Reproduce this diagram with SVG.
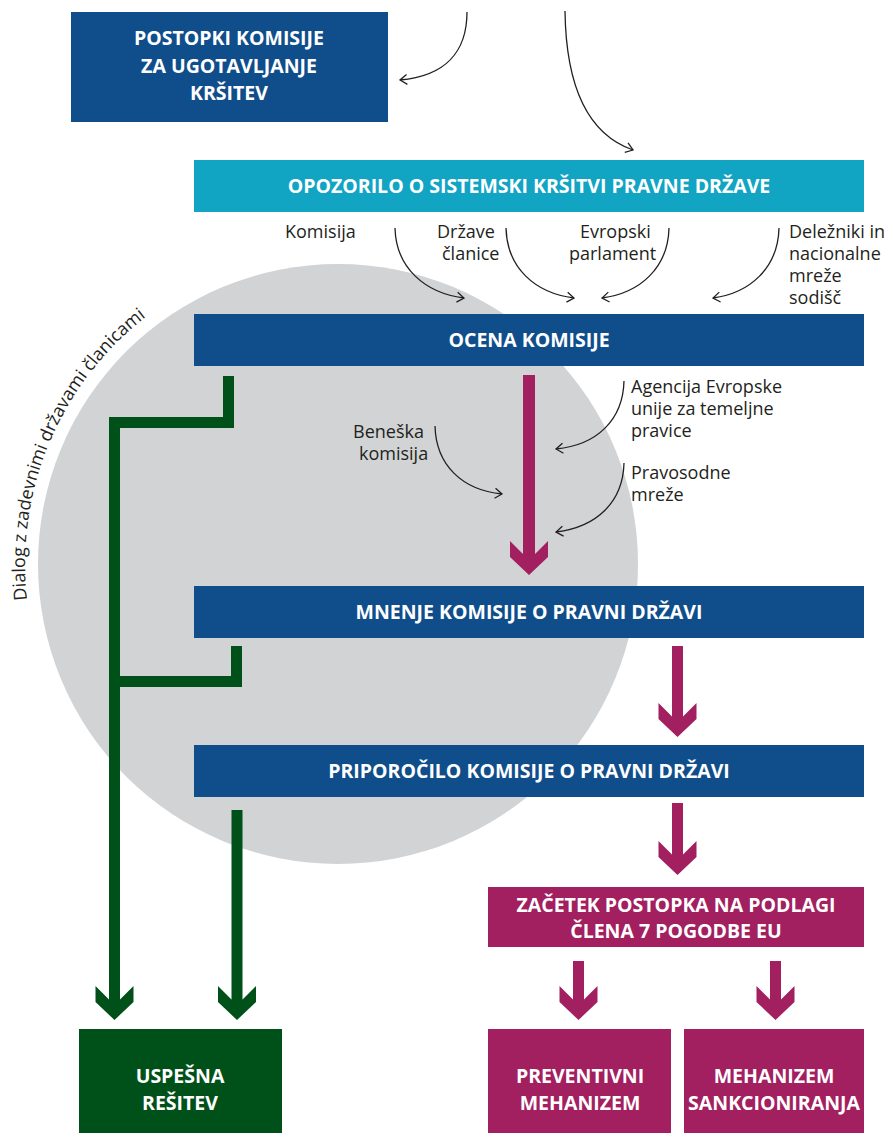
<svg xmlns="http://www.w3.org/2000/svg" width="888" height="1133" viewBox="0 0 888 1133">
<style>
.blue{fill:#104e8b}
.cyan{fill:#11a4c3}
.mag{fill:#a21f60}
.grn{fill:#00501a}
.bt{font-family:"Open Sans","Liberation Sans",sans-serif;font-weight:bold;font-size:19.5px;fill:#fff;text-anchor:middle}
.at{font-family:"Open Sans","Liberation Sans",sans-serif;font-size:18px;fill:#231f20}
.thin{fill:none;stroke:#231f20;stroke-width:1.3;marker-end:url(#oh)}
</style>
<defs>
<marker id="oh" markerUnits="userSpaceOnUse" markerWidth="20" markerHeight="20" refX="0" refY="0" orient="auto" viewBox="-10 -10 20 20" overflow="visible">
<path d="M-7,-5 L0,0 L-7,5" fill="none" stroke="#231f20" stroke-width="1.3"/>
</marker>
<path id="head" d="M-19,-34 L-5.5,-20.5 L5.5,-20.5 L19,-34 L19,-18 L0,0 L-19,-18 Z"/>
<path id="arc" d="M27.1,600 A313,313 0 0 1 181.5,293"/>
</defs>

<circle id="dialog-circle" cx="338" cy="564" r="300" fill="#d1d3d4"/>
<text class="at" font-size="18.5"><textPath href="#arc">Dialog z zadevnimi državami članicami</textPath></text>

<g id="postopki">
<rect class="blue" x="71" y="12" width="317" height="110"/>
<text class="bt" x="229" y="45">POSTOPKI KOMISIJE</text>
<text class="bt" x="229" y="72.5">ZA UGOTAVLJANJE</text>
<text class="bt" x="229" y="100">KRŠITEV</text>
</g>

<g id="opozorilo">
<rect class="cyan" x="194" y="160" width="670" height="52"/>
<text class="bt" x="529" y="193">OPOZORILO O SISTEMSKI KRŠITVI PRAVNE DRŽAVE</text>
</g>

<g id="ocena">
<rect class="blue" x="194" y="314" width="670" height="52"/>
<text class="bt" x="529" y="347">OCENA KOMISIJE</text>
</g>

<g id="mnenje">
<rect class="blue" x="194" y="586" width="670" height="52"/>
<text class="bt" x="529" y="619">MNENJE KOMISIJE O PRAVNI DRŽAVI</text>
</g>

<g id="priporocilo">
<rect class="blue" x="194" y="745" width="670" height="52"/>
<text class="bt" x="529" y="778">PRIPOROČILO KOMISIJE O PRAVNI DRŽAVI</text>
</g>

<g id="zacetek">
<rect class="mag" x="488" y="887" width="376" height="60"/>
<text class="bt" x="676" y="912">ZAČETEK POSTOPKA NA PODLAGI</text>
<text class="bt" x="676" y="938">ČLENA 7 POGODBE EU</text>
</g>

<g id="uspesna">
<rect class="grn" x="79" y="1029" width="203" height="104"/>
<text class="bt" x="180" y="1083">USPEŠNA</text>
<text class="bt" x="180" y="1110">REŠITEV</text>
</g>

<g id="preventivni">
<rect class="mag" x="488" y="1029" width="183" height="104"/>
<text class="bt" x="580" y="1083">PREVENTIVNI</text>
<text class="bt" x="580" y="1110">MEHANIZEM</text>
</g>

<g id="sankcioniranje">
<rect class="mag" x="684" y="1029" width="180" height="104"/>
<text class="bt" x="774" y="1083">MEHANIZEM</text>
<text class="bt" x="774" y="1110">SANKCIONIRANJA</text>
</g>

<g id="labels">
<text class="at" x="285" y="238">Komisija</text>
<text class="at" x="437" y="238">Države</text>
<text class="at" x="442" y="260">članice</text>
<text class="at" x="580" y="238">Evropski</text>
<text class="at" x="569" y="260">parlament</text>
<text class="at" x="789" y="238">Deležniki in</text>
<text class="at" x="789" y="260">nacionalne</text>
<text class="at" x="789" y="282">mreže</text>
<text class="at" x="789" y="304">sodišč</text>
<text class="at" x="353" y="438">Beneška</text>
<text class="at" x="359" y="460">komisija</text>
<text class="at" x="631" y="393">Agencija Evropske</text>
<text class="at" x="631" y="415">unije za temeljne</text>
<text class="at" x="631" y="437">pravice</text>
<text class="at" x="631" y="479">Pravosodne</text>
<text class="at" x="631" y="501">mreže</text>
</g>

<g id="connectors">
<path class="thin" d="M467,12 C467,52 445,76 400,80"/>
<path class="thin" d="M565,11 C566,90 590,135 633,150"/>
<path class="thin" d="M395,228 C396,268 425,293 464,298"/>
<path class="thin" d="M506,228 C507,268 535,293 574,298"/>
<path class="thin" d="M669,228 C668,268 640,293 602,298"/>
<path class="thin" d="M779,228 C778,268 750,293 713,298"/>
<path class="thin" d="M435,426 C436,465 462,490 502,494"/>
<path class="thin" d="M624,381 C623,420 597,445 556,449"/>
<path class="thin" d="M624,463 C623,502 597,527 556,532"/>

<g class="grn">
<rect x="109" y="417" width="11" height="584"/>
<rect x="109" y="417" width="125" height="11"/>
<rect x="223" y="376" width="11" height="52"/>
<rect x="109" y="676" width="133" height="11"/>
<rect x="231" y="646" width="11" height="41"/>
<rect x="231.5" y="810" width="11" height="191"/>
<use href="#head" x="114.5" y="1020"/>
<use href="#head" x="237" y="1020"/>
</g>

<g class="mag">
<rect x="523" y="375" width="12" height="181"/>
<use href="#head" x="529" y="575"/>
<rect x="672" y="646" width="11" height="72"/>
<use href="#head" x="677.5" y="737"/>
<rect x="672" y="803" width="11" height="53"/>
<use href="#head" x="677.5" y="875"/>
<rect x="573" y="961" width="11" height="40"/>
<use href="#head" x="578.5" y="1020"/>
<rect x="770" y="961" width="11" height="40"/>
<use href="#head" x="775.5" y="1020"/>
</g>
</g>
</svg>
